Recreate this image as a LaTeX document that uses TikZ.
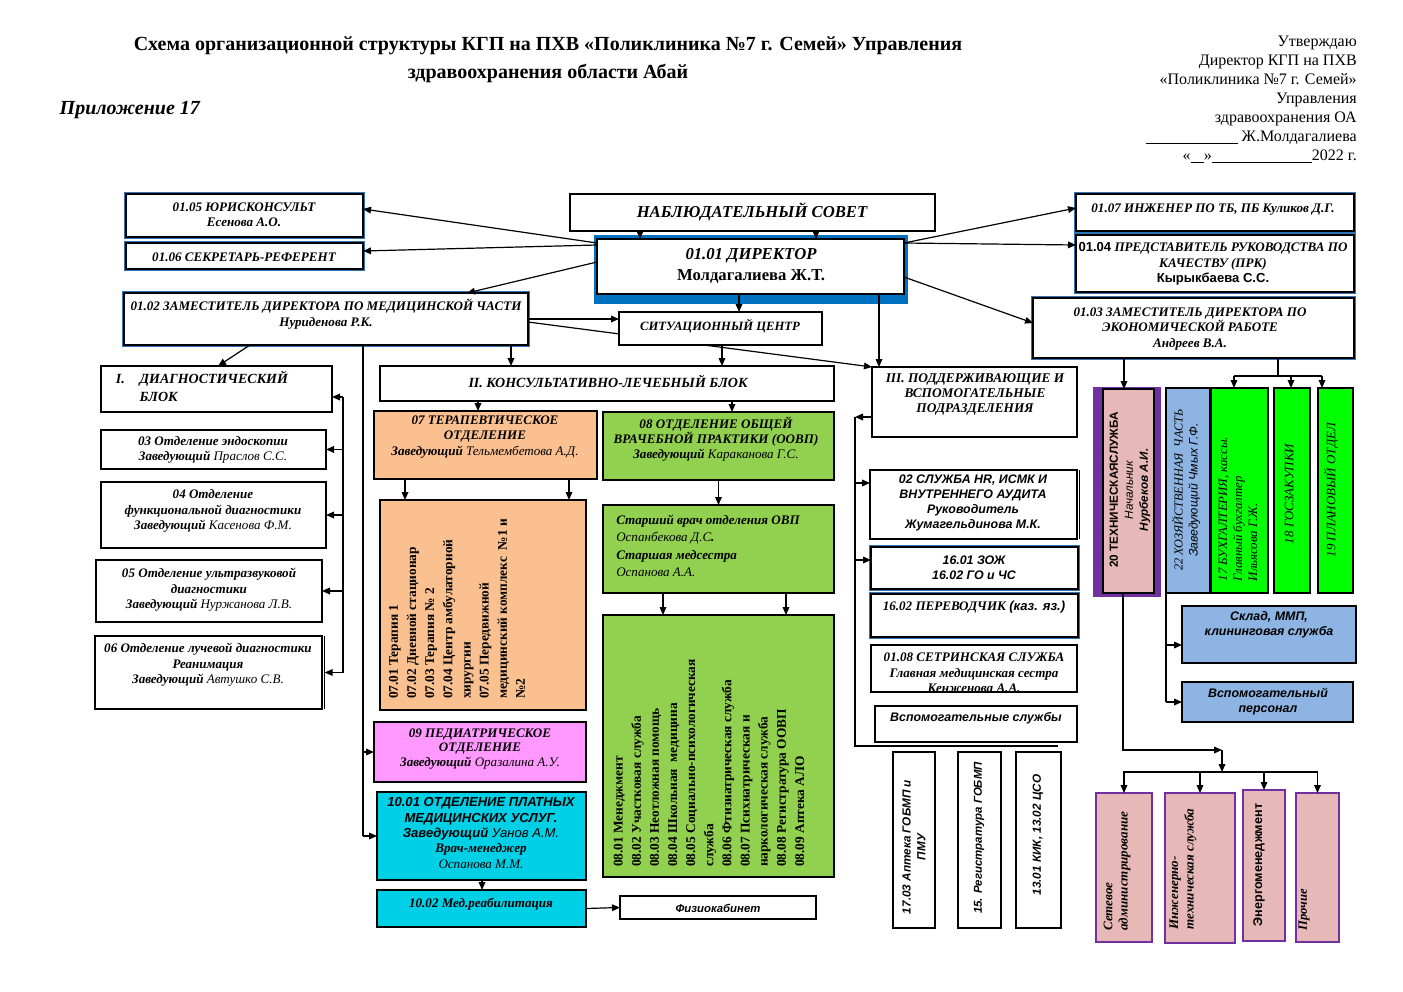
\documentclass[tikz,border=0pt]{standalone}
\usepackage{fontspec}
\setmainfont{Liberation Serif}
\setsansfont{Liberation Sans}
\usetikzlibrary{arrows.meta}
\definecolor{peach}{HTML}{FAC090}
\definecolor{leaf}{HTML}{92D050}
\definecolor{lime}{HTML}{00FF00}
\definecolor{orchid}{HTML}{FF99FF}
\definecolor{aqua}{HTML}{00D0E6}
\definecolor{sky}{HTML}{8DB4E2}
\definecolor{rose}{HTML}{E6B9B8}
\definecolor{plum}{HTML}{7030A0}
\definecolor{dirblue}{HTML}{0070C0}
\definecolor{edgeblue}{HTML}{2E75B6}
\tikzset{
	orgbox/.style={draw=black, line width=0.8pt, fill=white, inner sep=0pt, outer sep=0pt},
	orgtext/.style={inner sep=0pt, align=center, font=\fontsize{9.8}{11.5}\selectfont\bfseries\itshape},
	sans/.style={font=\fontsize{9.3}{11.25}\selectfont\sffamily\bfseries\itshape},
	head/.style={font=\fontsize{10.5}{13.5}\selectfont\bfseries\itshape},
	big/.style={font=\fontsize{12.5}{15.75}\selectfont\bfseries\itshape},
	vert/.style={rotate=90},
	list/.style={rotate=90, align=left, font=\fontsize{10}{13.6}\selectfont\bfseries\upshape},
	edged/.style={preaction={draw=edgeblue, line width=2.4pt}},
	link/.style={line width=0.9pt, -{Triangle[length=6pt,width=5pt]}},
	wire/.style={line width=0.9pt},
}
% box: [box options][text options](name)(x1,y1)(x2,y2)(text centre){text}
\def\obox[#1][#2](#3)(#4,#5)(#6,#7)(#8)#9{%
	\node[orgbox,#1,minimum width={(#6-#4)*0.75pt},minimum height={(#7-#5)*0.75pt}] (#3) at ({(#4+#6)/2},{(#5+#7)/2}) {};
	\node[orgtext,#2] (#3-t) at (#8) {#9};}

\begin{document}
\begin{tikzpicture}[x=0.75pt,y=-0.75pt]
	%%%%% START %%%%%
	\useasboundingbox (0,0) rectangle (1403,992);
	
	\node[font=\fontsize{15}{17}\selectfont\bfseries] (title1) at (548,46) {Схема организационной структуры КГП на ПХВ «Поликлиника №7 г. Семей» Управления};
	\node[font=\fontsize{15}{17}\selectfont\bfseries] (title2) at (548,73) {здравоохранения области Абай};
	\node[anchor=west, font=\fontsize{15}{17}\selectfont\bfseries\itshape] (annex) at (55,110) {Приложение 17};
	\node[anchor=north east, align=right, inner sep=0pt, font=\fontsize{12}{14.25}\selectfont] (approve) at (1357,36) {Утверждаю\\Директор КГП на ПХВ\\«Поликлиника №7 г. Семей»\\Управления\\здравоохранения ОА\\\rule[-1.5pt]{69pt}{0.5pt} Ж.Молдагалиева\\«\rule[-1.5pt]{10pt}{0.5pt}»\rule[-1.5pt]{75pt}{0.5pt}2022 г.};
	
	% top level
	\obox[edged][](yur)(126,194)(363,237)(244,215){01.05 ЮРИСКОНСУЛЬТ\\Есенова А.О.}
	\obox[edged][](sek)(126,243)(363,269)(244,257){01.06 СЕКРЕТАРЬ-РЕФЕРЕНТ}
	\obox[edged][](zmed)(124,293)(528,345)(326,314){01.02 ЗАМЕСТИТЕЛЬ ДИРЕКТОРА ПО МЕДИЦИНСКОЙ ЧАСТИ\\Нуриденова Р.К.}
	\obox[][big](nab)(570,194)(935,231)(752,212){НАБЛЮДАТЕЛЬНЫЙ СОВЕТ}
	\fill[dirblue] (594,235) rectangle (908,304);
	\obox[][big](dir)(597,239)(904,294)(751,266){01.01 ДИРЕКТОР\\{\upshape Молдагалиева Ж.Т.}}
	\obox[edged][](ing)(1076,194)(1354,231)(1213,210){01.07 ИНЖЕНЕР ПО ТБ, ПБ Куликов Д.Г.}
	\obox[edged][](prk)(1076,235)(1354,292)(1213,264){{\sffamily\upshape 01.04} ПРЕДСТАВИТЕЛЬ РУКОВОДСТВА ПО\\КАЧЕСТВУ (ПРК)\\{\sffamily\upshape Кырыкбаева С.С.}}
	\obox[edged][](zeco)(1033,298)(1354,358)(1190,329){01.03 ЗАМЕСТИТЕЛЬ ДИРЕКТОРА ПО\\ЭКОНОМИЧЕСКОЙ РАБОТЕ\\Андреев В.А.}
	\obox[][font=\fontsize{10}{11.25}\selectfont\bfseries\itshape](pod)(872,367)(1077,437)(975,395){III. ПОДДЕРЖИВАЮЩИЕ И\\ВСПОМОГАТЕЛЬНЫЕ\\ПОДРАЗДЕЛЕНИЯ}
	
	\draw[link] (zmed.east |- 0,322) -- (pod.north west);
	\obox[][font=\fontsize{9.5}{11}\selectfont\bfseries\itshape](sit)(619,312)(822,345)(720,326){СИТУАЦИОННЫЙ ЦЕНТР}
	
	% I. diagnostic block
	\obox[][head](diag)(101,366)(332,412)(202,389){\begin{tabular}{@{}l@{\hspace{11pt}}l@{}}I. & ДИАГНОСТИЧЕСКИЙ\\ & БЛОК\end{tabular}}
	\obox[][](endo)(101,430)(326,469)(213,450){03 Отделение эндоскопии\\Заведующий {\mdseries Праслов С.С.}}
	\obox[][](func)(101,482)(326,548)(213,511){04 Отделение\\функциональной диагностики\\Заведующий {\mdseries Касенова Ф.М.}}
	\obox[][](uzi)(96,560)(322,622)(209,590){05 Отделение ультразвуковой\\диагностики\\Заведующий {\mdseries Нуржанова Л.В.}}
	\obox[][](luch)(95,636)(322,709)(208,665){06 Отделение лучевой диагностики\\Реанимация\\Заведующий {\mdseries Автушко С.В.}}
	\draw[line width=0.6pt] ([xshift=2pt]luch.north east) -- ([xshift=2pt]luch.south east);
	
	% II. consulting block
	\obox[][head](kons)(380,366)(834,401)(608,381){II. КОНСУЛЬТАТИВНО-ЛЕЧЕБНЫЙ БЛОК}
	\obox[fill=peach][](ter)(374,411)(597,479)(485,437){07 ТЕРАПЕВТИЧЕСКОЕ\\ОТДЕЛЕНИЕ\\Заведующий {\mdseries Тельмембетова А.Д.}}
	\obox[fill=leaf][](ovp)(603,412)(834,480)(716,439){08 ОТДЕЛЕНИЕ ОБЩЕЙ\\ВРАЧЕБНОЙ ПРАКТИКИ (ООВП)\\Заведующий {\mdseries Караканова Г.С.}}
	\obox[fill=peach][list](terlist)(380,500)(586,710)(457,609){07.01 Терапия 1\\07.02 Дневной стационар\\07.03 Терапия № 2\\07.04 Центр амбулаторной\\хирургии\\07.05 Передвижной\\медицинский комплекс \ №1 и\\№2}
	\obox[fill=leaf][align=left, font=\fontsize{9.8}{13}\selectfont\bfseries\itshape](stv)(603,505)(834,593)(708,546){Старший врач отделения ОВП\\{\mdseries Оспанбекова Д.С}.\\Старшая медсестра\\{\mdseries Оспанова А.А.}}
	\obox[fill=leaf][list](ovplist)(603,615)(834,877)(709,763){08.01 Менеджмент\\08.02 Участковая служба\\08.03 Неотложная помощь\\08.04 Школьная \ медицина\\08.05 Социально-психологическая\\служба\\08.06 Фтизиатрическая служба\\08.07 Психиатрическая и\\наркологическая служба\\08.08 Регистратура ООВП\\08.09 Аптека АЛО}
	\obox[fill=orchid][font=\fontsize{9.8}{11}\selectfont\bfseries\itshape](ped)(374,722)(586,782)(480,749){09 ПЕДИАТРИЧЕСКОЕ\\ОТДЕЛЕНИЕ\\Заведующий {\mdseries Оразалина А.У.}}
	\obox[fill=aqua][](plat)(377,792)(586,880)(481,833){{\sffamily 10.01 ОТДЕЛЕНИЕ ПЛАТНЫХ}\\{\sffamily МЕДИЦИНСКИХ УСЛУГ.}\\{\sffamily Заведующий {\mdseries Уанов А.М.}}\\Врач-менеджер\\{\mdseries Оспанова М.М.}}
	\obox[fill=aqua][](reab)(377,890)(586,927)(481,904){10.02 Мед.реабилитация}
	\obox[][font=\fontsize{8.5}{10}\selectfont\sffamily\bfseries\itshape](fizio)(620,896)(816,919)(718,908){Физиокабинет}
	
	% III. support units
	\obox[][sans](hr)(870,470)(1077,539)(973,503){02 СЛУЖБА HR, ИСМК И\\ВНУТРЕННЕГО АУДИТА\\Руководитель\\Жумагельдинова М.К.}
	\draw[line width=0.6pt] ([xshift=2pt]hr.north east) -- ([xshift=2pt]hr.south east);
	\obox[edged][sans](zoj)(871,547)(1078,589)(974,568){16.01 ЗОЖ\\16.02 ГО и ЧС}
	\obox[edged][](per)(871,594)(1078,637)(974,607){16.02 ПЕРЕВОДЧИК {\sffamily (каз. яз.)}}
	\obox[][](ses)(871,645)(1077,692)(974,673){01.08 СЕТРИНСКАЯ СЛУЖБА\\Главная медицинская сестра\\Кенженова А.А.}
	\obox[][sans](vsp)(875,706)(1077,742)(976,718){Вспомогательные службы}
	\obox[][sans, vert, font=\fontsize{8.8}{11}\selectfont\sffamily\bfseries\itshape](apt)(893,752)(935,928)(914,847){17.03 Аптека ГОБМП и\\ПМУ}
	\obox[][sans, vert, font=\fontsize{8.6}{11}\selectfont\sffamily\bfseries\itshape](reg)(958,752)(1001,928)(979,838){15. Регистратура ГОБМП}
	\obox[][sans, vert, font=\fontsize{8.8}{11}\selectfont\sffamily\bfseries\itshape](kik)(1016,752)(1061,928)(1038,835){13.01 КИК, 13.02 ЦСО}
	
	% economic units
	\fill[plum] (1093,387) rectangle (1161,597);
	\obox[fill=rose][vert, font=\fontsize{8.8}{11.25}\selectfont\sffamily\bfseries](tech)(1103,389)(1154,593)(1130,490){20 ТЕХНИЧЕСКАЯСЛУЖБА\\{\mdseries\itshape Начальник}\\{\itshape Нурбеков А.И.}}
	\obox[fill=sky][vert, font=\fontsize{9.2}{11.25}\selectfont\itshape](hoz)(1166,388)(1210,593)(1186,490){22 ХОЗЯЙСТВЕННАЯ \ ЧАСТЬ\\{\sffamily Заведующий Чмых Г.Ф.}}
	\obox[fill=lime][vert, align=left, font=\fontsize{9.6}{11.25}\selectfont\itshape](buh)(1211,388)(1268,593)(1238,509){17 БУХГАЛТЕРИЯ, кассы.\\Главный бухгалтер\\Ильясова Г.Ж.}
	\obox[fill=lime][vert, font=\fontsize{9.7}{11}\selectfont\itshape](gos)(1274,388)(1310,593)(1289,494){18 ГОСЗАКУПКИ}
	\obox[fill=lime][vert, font=\fontsize{9.7}{11}\selectfont\itshape](plan)(1318,388)(1353,593)(1331,490){19 ПЛАНОВЫЙ ОТДЕЛ}
	\obox[fill=sky][sans](sklad)(1182,606)(1356,663)(1269,625){Склад, ММП,\\клининговая служба}
	\obox[fill=sky][sans](vpers)(1182,682)(1353,722)(1268,702){Вспомогательный\\персонал}
	\obox[fill=rose, draw=plum][vert, align=left](set)(1096,793)(1152,942)(1117,871){Сетевое\\администрирование}
	\obox[fill=rose, draw=plum][vert, align=left](ing2)(1165,793)(1235,943)(1183,869){Инженерно-\\техническая служба}
	\obox[fill=rose, draw=plum][vert, font=\fontsize{9.5}{11}\selectfont\sffamily\bfseries](energ)(1243,790)(1285,941)(1259,865){Энергоменеджмент}
	\obox[fill=rose, draw=plum][vert, font=\fontsize{9.5}{11}\selectfont\bfseries\itshape](proch)(1296,793)(1339,942)(1304,910){Прочие}
	
	% buses
	\coordinate (diagbus) at (343,0);
	\coordinate (medbus) at (363,0);
	\coordinate (podbus) at (855,0);
	\coordinate (podend) at (1058,746);
	\coordinate (hozbus) at (1166,0);
	\coordinate (ecobus) at (1278,376);
	\coordinate (techturn) at (1123,750);
	\coordinate (techdrop) at (1222,750);
	\coordinate (techbus) at (1123,772);
	
	% director links
	\draw[link] (nab.south -| 640,0) -- (dir.north -| 640,0);
	\draw[link] (nab.south -| 816,0) -- (dir.north -| 816,0);
	\draw[link] (dir.west |- 0,243) -- (yur.east |- 0,209);
	\draw[link] (dir.west |- 0,245) -- (sek.east |- 0,251);
	\draw[link] (dir.west |- 0,262) -- (zmed.north -| 467,0);
	\draw[link] (dir.east |- 0,243) -- (ing.west |- 0,208);
	\draw[link] (dir.east |- 0,243) -- (prk.west |- 0,245);
	\draw[link] (dir.east |- 0,277) -- (zeco.west |- 0,323);
	\draw[link] (dir.south -| 739,0) -- (sit.north -| 739,0);
	\draw[link] (dir.south -| 879,0) -- (pod.north -| 879,0);
	\draw[link] (sit.south -| 722,0) -- (kons.north -| 722,0);
	\draw[link] (zmed.east |- 0,319) -- (sit.west |- 0,319);
	
	% medical part
	\draw[link] (zmed.south -| 250,0) -- (diag.north -| 218,0);
	\draw[link] (zmed.south -| 511,0) -- (kons.north -| 511,0);
	\draw[wire] (zmed.south -| medbus) -- (plat.west -| medbus);
	\draw[link] (ped.west -| medbus) -- (ped.west);
	\draw[link] (plat.west -| medbus) -- (plat.west);
	\draw[wire] (diagbus |- 0,397) -- (luch.east -| diagbus);
	\draw[link] (diagbus |- 0,397) -- (diag.east |- 0,397);
	\draw[link] (endo.east -| diagbus) -- (endo.east);
	\draw[link] (func.east -| diagbus) -- (func.east);
	\draw[link] (uzi.east -| diagbus) -- (uzi.east);
	\draw[link] (luch.east -| diagbus) -- ([xshift=2pt]luch.east);
	\draw[link] (kons.south -| 478,0) -- (ter.north -| 478,0);
	\draw[link] (kons.south -| 732,0) -- (ovp.north -| 732,0);
	\draw[link] (ter.south -| 405,0) -- (terlist.north -| 405,0);
	\draw[link] (ter.south -| 569,0) -- (terlist.north -| 569,0);
	\draw[link] (ovp.south) -- (stv.north);
	\draw[link] (stv.south -| 663,0) -- (ovplist.north -| 663,0);
	\draw[link] (stv.south -| 786,0) -- (ovplist.north -| 786,0);
	\draw[link] (plat.south -| 482,0) -- (reab.north -| 482,0);
	\draw[link] (reab.east) -- (fizio.west);
	
	% support part
	\draw[link] (pod.west |- 0,417) -- (podbus |- 0,417);
	\draw[wire] (podbus |- 0,417) -- (podbus |- podend) -- (podend);
	\draw[link] (podbus |- 0,483) -- (hr.west |- 0,483);
	\draw[link] (podbus |- 0,560) -- (zoj.west |- 0,560);
	
	% economic part
	\draw[link] (zeco.south -| 1124,0) -- (tech.north -| 1124,0);
	\draw[wire] (zeco.south -| ecobus) -- (ecobus);
	\draw[wire] (1234,0 |- ecobus) -- (1322,0 |- ecobus);
	\draw[link] (1234,0 |- ecobus) -- (buh.north -| 1234,0);
	\draw[link] (1291,0 |- ecobus) -- (gos.north -| 1291,0);
	\draw[link] (1322,0 |- ecobus) -- (plan.north -| 1322,0);
	\draw[wire] (hoz.south -| hozbus) -- (vpers.west -| hozbus);
	\draw[link] (hozbus |- 0,645) -- (sklad.west |- 0,645);
	\draw[link] (vpers.west -| hozbus) -- (vpers.west);
	\draw[link] (tech.south -| techturn) -- (techturn) -- (techdrop);
	\draw[link] (techdrop) -- (techdrop |- techbus);
	\draw[wire] (techbus) -- (proch.north |- techbus);
	\draw[link] (set.north |- techbus) -- (set.north);
	\draw[link] (ing2.north |- techbus) -- (ing2.north);
	\draw[link] (energ.north |- techbus) -- (energ.north);
	\draw[link] (proch.north |- techbus) -- (proch.north);
	
	%%%%% END %%%%%
\end{tikzpicture}
\end{document}
